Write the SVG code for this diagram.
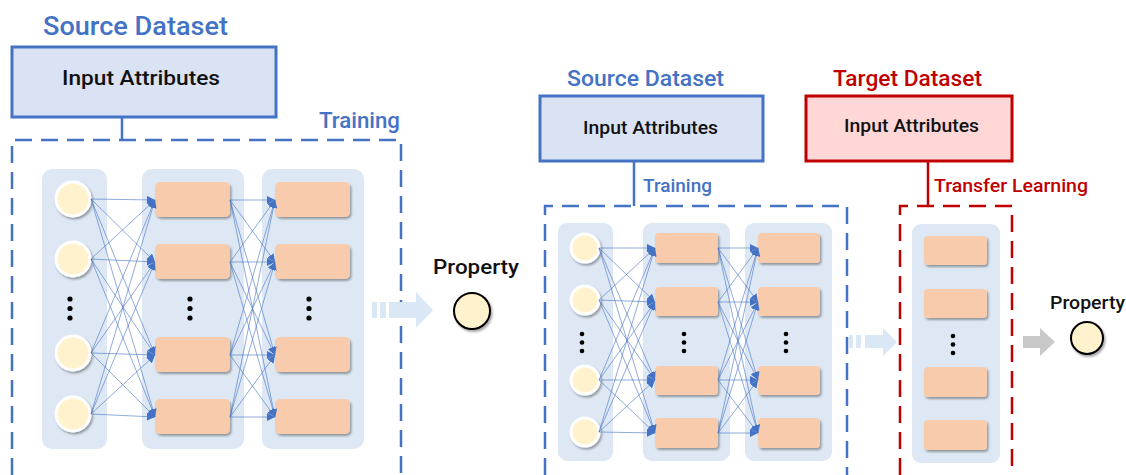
<svg xmlns="http://www.w3.org/2000/svg" width="1126" height="475" viewBox="0 0 1126 475">
  <defs>
    <style>
      .title { font-family: Roboto, "Liberation Sans", sans-serif; font-weight: 500; }
      .blue { fill: #4472C4; }
      .red { fill: #C00000; }
      .dark { fill: #111111; }
      .src-box { fill: #DAE3F3; stroke: #4472C4; stroke-width: 3; }
      .tgt-box { fill: #FFD7D7; stroke: #C00000; stroke-width: 3; }
      .stem-blue { stroke: #4472C4; stroke-width: 2.5; fill: none; }
      .stem-red { stroke: #C00000; stroke-width: 2.5; fill: none; }
      .dash-blue { fill: none; stroke: #4472C4; stroke-width: 2.5; stroke-dasharray: 17 9; }
      .dash-red { fill: none; stroke: #C00000; stroke-width: 2.5; stroke-dasharray: 17 9; }
      .col { fill: #DDE8F4; }
      .unit { fill: #F8CBAD; }
      .in { fill: #FFF2CC; stroke: #FFFFFF; stroke-width: 3; }
      .out { fill: #FFF2CC; stroke: #000000; stroke-width: 2; }
      .dot { fill: #000000; }
      .link { stroke: #4472C4; stroke-width: 0.8; stroke-opacity: 0.75; marker-end: url(#tip); }
      .flow { fill: #DAE7F5; }
      .flow-grey { fill: #C9C9C9; }
    </style>
    <marker id="tip" viewBox="0 0 10 10" refX="10" refY="5" markerWidth="8" markerHeight="8" markerUnits="userSpaceOnUse" orient="auto">
      <path d="M0,0 L10,5 L0,10 z" fill="#4472C4"/>
    </marker>
    <filter id="shade" x="-20%" y="-20%" width="150%" height="160%">
      <feDropShadow dx="1.5" dy="2" stdDeviation="1.2" flood-color="#000000" flood-opacity="0.35"/>
    </filter>
  </defs>

  <!-- ===== Left: model trained on source dataset ===== -->
  <g id="left-source">
    <text class="title blue" x="43" y="35" font-size="26" textLength="185" lengthAdjust="spacingAndGlyphs">Source Dataset</text>
    <rect class="src-box" x="12" y="47" width="264" height="70"/>
    <text class="title dark" x="62" y="85" font-size="21" textLength="158" lengthAdjust="spacingAndGlyphs">Input Attributes</text>
  </g>
  <g id="left-training">
    <path class="dash-blue" d="M12,475 V140 H401 V475"/>
    <text class="title blue" x="319" y="128" font-size="22" textLength="81" lengthAdjust="spacingAndGlyphs">Training</text>
  </g>
  <g id="left-net">
    <rect class="col" x="42" y="169" width="65" height="280" rx="10"/>
    <rect class="col" x="142" y="169" width="102" height="280" rx="10"/>
    <rect class="col" x="262" y="169" width="102" height="280" rx="10"/>
    <g filter="url(#shade)">
      <circle class="in" cx="73" cy="199" r="17"/>
      <circle class="in" cx="73" cy="259" r="17"/>
      <circle class="in" cx="73" cy="353" r="17"/>
      <circle class="in" cx="73" cy="414" r="17"/>
      <rect class="unit" x="155" y="182" width="75" height="35" rx="5"/>
      <rect class="unit" x="155" y="244" width="75" height="35" rx="5"/>
      <rect class="unit" x="155" y="337" width="75" height="35" rx="5"/>
      <rect class="unit" x="155" y="399" width="75" height="35" rx="5"/>
      <rect class="unit" x="275" y="182" width="75" height="35" rx="5"/>
      <rect class="unit" x="275" y="244" width="75" height="35" rx="5"/>
      <rect class="unit" x="275" y="337" width="75" height="35" rx="5"/>
      <rect class="unit" x="275" y="399" width="75" height="35" rx="5"/>
    </g>
    <circle class="dot" cx="70" cy="299" r="2.6"/><circle class="dot" cx="70" cy="308.5" r="2.6"/><circle class="dot" cx="70" cy="318" r="2.6"/>
    <circle class="dot" cx="190" cy="299" r="2.6"/><circle class="dot" cx="190" cy="308.5" r="2.6"/><circle class="dot" cx="190" cy="318" r="2.6"/>
    <circle class="dot" cx="309" cy="299" r="2.6"/><circle class="dot" cx="309" cy="308.5" r="2.6"/><circle class="dot" cx="309" cy="318" r="2.6"/>
  </g>

  <g id="left-output">
    <rect class="flow" x="372" y="302" width="5" height="16"/>
    <rect class="flow" x="380" y="302" width="6" height="16"/>
    <path class="flow" d="M389,302 H416 V292 L433,310 L416,328 V318 H389 z"/>
    <text class="title dark" x="433" y="274" font-size="21" textLength="86" lengthAdjust="spacingAndGlyphs">Property</text>
    <circle class="out" cx="472" cy="311" r="18" filter="url(#shade)"/>
  </g>

  <!-- ===== Middle: pre-trained model ===== -->
  <g id="mid-source">
    <text class="title blue" x="567" y="86" font-size="22" textLength="157" lengthAdjust="spacingAndGlyphs">Source Dataset</text>
    <rect class="src-box" x="540" y="96" width="223" height="65"/>
    <text class="title dark" x="583" y="134" font-size="18" textLength="135" lengthAdjust="spacingAndGlyphs">Input Attributes</text>
  </g>
  <g id="mid-training">
    <path class="dash-blue" d="M545,475 V206 H847 V475"/>
    <text class="title blue" x="643" y="192" font-size="18" textLength="69" lengthAdjust="spacingAndGlyphs">Training</text>
  </g>
  <g id="mid-net">
    <rect class="col" x="558" y="223" width="55" height="238" rx="9"/>
    <rect class="col" x="643" y="223" width="87" height="238" rx="9"/>
    <rect class="col" x="745" y="223" width="87" height="238" rx="9"/>
    <g filter="url(#shade)">
      <circle class="in" cx="585" cy="248" r="14"/>
      <circle class="in" cx="585" cy="300" r="14"/>
      <circle class="in" cx="585" cy="380" r="14"/>
      <circle class="in" cx="585" cy="432" r="14"/>
      <rect class="unit" x="655" y="233" width="63" height="30" rx="4"/>
      <rect class="unit" x="655" y="287" width="63" height="29" rx="4"/>
      <rect class="unit" x="655" y="366" width="63" height="29" rx="4"/>
      <rect class="unit" x="655" y="418" width="63" height="30" rx="4"/>
      <rect class="unit" x="758" y="233" width="62" height="30" rx="4"/>
      <rect class="unit" x="758" y="287" width="62" height="29" rx="4"/>
      <rect class="unit" x="758" y="366" width="62" height="29" rx="4"/>
      <rect class="unit" x="758" y="418" width="62" height="30" rx="4"/>
    </g>
    <circle class="dot" cx="582" cy="334" r="2.3"/><circle class="dot" cx="582" cy="342.5" r="2.3"/><circle class="dot" cx="582" cy="351" r="2.3"/>
    <circle class="dot" cx="684" cy="334" r="2.3"/><circle class="dot" cx="684" cy="342.5" r="2.3"/><circle class="dot" cx="684" cy="351" r="2.3"/>
    <circle class="dot" cx="786" cy="334" r="2.3"/><circle class="dot" cx="786" cy="342.5" r="2.3"/><circle class="dot" cx="786" cy="351" r="2.3"/>
  </g>

  <!-- fully connected layers -->
  <g id="connectors">
    <!-- left net, inputs to hidden layer 1 -->
    <line class="link" x1="91" y1="199" x2="155" y2="200"/>
    <line class="link" x1="91" y1="199" x2="155" y2="262"/>
    <line class="link" x1="91" y1="199" x2="155" y2="355"/>
    <line class="link" x1="91" y1="199" x2="155" y2="417"/>
    <line class="link" x1="91" y1="259" x2="155" y2="200"/>
    <line class="link" x1="91" y1="259" x2="155" y2="262"/>
    <line class="link" x1="91" y1="259" x2="155" y2="355"/>
    <line class="link" x1="91" y1="259" x2="155" y2="417"/>
    <line class="link" x1="91" y1="353" x2="155" y2="200"/>
    <line class="link" x1="91" y1="353" x2="155" y2="262"/>
    <line class="link" x1="91" y1="353" x2="155" y2="355"/>
    <line class="link" x1="91" y1="353" x2="155" y2="417"/>
    <line class="link" x1="91" y1="414" x2="155" y2="200"/>
    <line class="link" x1="91" y1="414" x2="155" y2="262"/>
    <line class="link" x1="91" y1="414" x2="155" y2="355"/>
    <line class="link" x1="91" y1="414" x2="155" y2="417"/>
    <!-- left net, hidden layer 1 to hidden layer 2 -->
    <line class="link" x1="230" y1="200" x2="275" y2="200"/>
    <line class="link" x1="230" y1="200" x2="275" y2="262"/>
    <line class="link" x1="230" y1="200" x2="275" y2="355"/>
    <line class="link" x1="230" y1="200" x2="275" y2="417"/>
    <line class="link" x1="230" y1="262" x2="275" y2="200"/>
    <line class="link" x1="230" y1="262" x2="275" y2="262"/>
    <line class="link" x1="230" y1="262" x2="275" y2="355"/>
    <line class="link" x1="230" y1="262" x2="275" y2="417"/>
    <line class="link" x1="230" y1="355" x2="275" y2="200"/>
    <line class="link" x1="230" y1="355" x2="275" y2="262"/>
    <line class="link" x1="230" y1="355" x2="275" y2="355"/>
    <line class="link" x1="230" y1="355" x2="275" y2="417"/>
    <line class="link" x1="230" y1="417" x2="275" y2="200"/>
    <line class="link" x1="230" y1="417" x2="275" y2="262"/>
    <line class="link" x1="230" y1="417" x2="275" y2="355"/>
    <line class="link" x1="230" y1="417" x2="275" y2="417"/>
    <!-- middle net, inputs to hidden layer 1 -->
    <line class="link" x1="599" y1="248" x2="655" y2="248"/>
    <line class="link" x1="599" y1="248" x2="655" y2="302"/>
    <line class="link" x1="599" y1="248" x2="655" y2="380"/>
    <line class="link" x1="599" y1="248" x2="655" y2="433"/>
    <line class="link" x1="599" y1="300" x2="655" y2="248"/>
    <line class="link" x1="599" y1="300" x2="655" y2="302"/>
    <line class="link" x1="599" y1="300" x2="655" y2="380"/>
    <line class="link" x1="599" y1="300" x2="655" y2="433"/>
    <line class="link" x1="599" y1="380" x2="655" y2="248"/>
    <line class="link" x1="599" y1="380" x2="655" y2="302"/>
    <line class="link" x1="599" y1="380" x2="655" y2="380"/>
    <line class="link" x1="599" y1="380" x2="655" y2="433"/>
    <line class="link" x1="599" y1="432" x2="655" y2="248"/>
    <line class="link" x1="599" y1="432" x2="655" y2="302"/>
    <line class="link" x1="599" y1="432" x2="655" y2="380"/>
    <line class="link" x1="599" y1="432" x2="655" y2="433"/>
    <!-- middle net, hidden layer 1 to hidden layer 2 -->
    <line class="link" x1="718" y1="248" x2="758" y2="248"/>
    <line class="link" x1="718" y1="248" x2="758" y2="302"/>
    <line class="link" x1="718" y1="248" x2="758" y2="380"/>
    <line class="link" x1="718" y1="248" x2="758" y2="433"/>
    <line class="link" x1="718" y1="302" x2="758" y2="248"/>
    <line class="link" x1="718" y1="302" x2="758" y2="302"/>
    <line class="link" x1="718" y1="302" x2="758" y2="380"/>
    <line class="link" x1="718" y1="302" x2="758" y2="433"/>
    <line class="link" x1="718" y1="380" x2="758" y2="248"/>
    <line class="link" x1="718" y1="380" x2="758" y2="302"/>
    <line class="link" x1="718" y1="380" x2="758" y2="380"/>
    <line class="link" x1="718" y1="380" x2="758" y2="433"/>
    <line class="link" x1="718" y1="433" x2="758" y2="248"/>
    <line class="link" x1="718" y1="433" x2="758" y2="302"/>
    <line class="link" x1="718" y1="433" x2="758" y2="380"/>
    <line class="link" x1="718" y1="433" x2="758" y2="433"/>
    <!-- dataset boxes to training frames -->
    <line class="stem-blue" x1="122" y1="117" x2="122" y2="140"/>
    <line class="stem-blue" x1="634" y1="161" x2="634" y2="206"/>
    <line class="stem-red" x1="928" y1="161" x2="928" y2="206"/>
  </g>

  <g id="mid-to-target">
    <rect class="flow" x="849" y="335" width="4" height="13"/>
    <rect class="flow" x="856" y="335" width="5" height="13"/>
    <path class="flow" d="M865,335 H883 V328 L897,342 L883,356 V348 H865 z"/>
  </g>

  <!-- ===== Right: transfer to target dataset ===== -->
  <g id="target-source">
    <text class="title red" x="833" y="86" font-size="22" textLength="149" lengthAdjust="spacingAndGlyphs">Target Dataset</text>
    <rect class="tgt-box" x="806" y="96" width="206" height="65"/>
    <text class="title dark" x="844" y="132" font-size="18" textLength="135" lengthAdjust="spacingAndGlyphs">Input Attributes</text>
  </g>
  <g id="target-transfer">
    <path class="dash-red" d="M900,475 V206 H1012 V475"/>
    <text class="title red" x="934" y="192" font-size="18" textLength="154" lengthAdjust="spacingAndGlyphs">Transfer Learning</text>
  </g>
  <g id="target-net">
    <rect class="col" x="912" y="224" width="88" height="239" rx="9"/>
    <g filter="url(#shade)">
      <rect class="unit" x="924" y="236" width="63" height="29" rx="4"/>
      <rect class="unit" x="924" y="289" width="63" height="29" rx="4"/>
      <rect class="unit" x="924" y="367" width="63" height="30" rx="4"/>
      <rect class="unit" x="924" y="420" width="63" height="30" rx="4"/>
    </g>
    <circle class="dot" cx="953" cy="336" r="2.3"/><circle class="dot" cx="953" cy="344.5" r="2.3"/><circle class="dot" cx="953" cy="353" r="2.3"/>
  </g>
  <g id="target-output">
    <path class="flow-grey" d="M1023,336 H1040 V328 L1055,342 L1040,356 V348 H1023 z"/>
    <text class="title dark" x="1050" y="309" font-size="18" textLength="75" lengthAdjust="spacingAndGlyphs">Property</text>
    <circle class="out" cx="1087" cy="338" r="16" filter="url(#shade)"/>
  </g>
</svg>
